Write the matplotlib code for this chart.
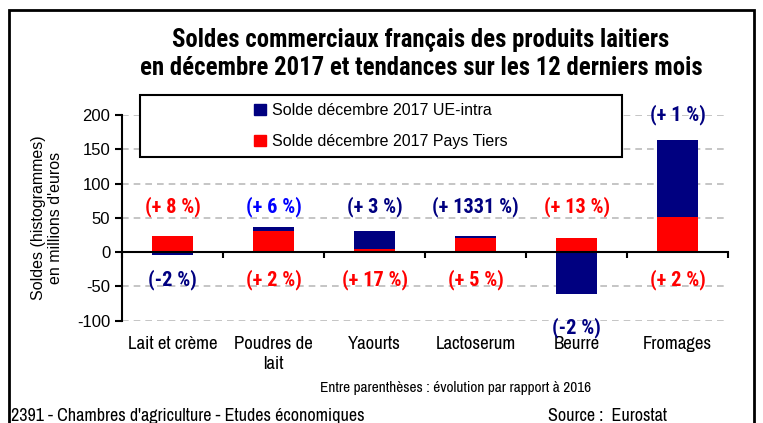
import matplotlib
matplotlib.use("Agg")
import matplotlib.pyplot as plt
from matplotlib import font_manager
from matplotlib.patches import Rectangle, Patch
import numpy as np

plt.rcParams["axes.unicode_minus"] = False

categories = ["Lait et crème", "Poudres de\nlait", "Yaourts", "Lactoserum", "Beurre", "Fromages"]
pays_tiers = [24, 31, 4, 21, 21, 51]
ue_intra = [-4, 6, 26, 3, -62, 113]

top_labels = ["(+ 8 %)", "(+ 6 %)", "(+ 3 %)", "(+ 1331 %)", "(+ 13 %)", "(+ 1 %)"]
top_colors = ["red", "blue", "navy", "navy", "red", "navy"]
top_y = [66, 66, 66, 66, 66, 200]
bottom_labels = ["(-2 %)", "(+ 2 %)", "(+ 17 %)", "(+ 5 %)", "(-2 %)", "(+ 2 %)"]
bottom_colors = ["navy", "red", "red", "red", "navy", "red"]
bottom_y = [-40, -40, -40, -40, -110, -40]

names = {f.name for f in font_manager.fontManager.ttflist}


def pick(cands):
    for n in cands:
        if n in names:
            return [n, "DejaVu Sans"]
    return ["Liberation Sans", "DejaVu Sans"]


narrow = pick(["Archivo Narrow", "Roboto Condensed"])
narrow_bold = pick(["Roboto Condensed", "Archivo Narrow"])
regular = ["Liberation Sans", "DejaVu Sans"]

fig = plt.figure(figsize=(7.63, 4.23), dpi=100)
ax = fig.add_axes([122 / 763, 1 - 320.5 / 423, (728 - 122) / 763, (320.5 - 115) / 423])

x = np.arange(len(categories))
ax.bar(x, pays_tiers, width=0.4, color="#FF0000", zorder=3)
bottoms = [p if u > 0 else 0 for p, u in zip(pays_tiers, ue_intra)]
ax.bar(x, ue_intra, width=0.4, bottom=bottoms, color="#000080", zorder=3)

ax.set_xlim(-0.5, len(categories) - 0.5)
ax.set_ylim(-100, 200)
ax.set_yticks(range(-100, 201, 50))
ax.yaxis.grid(True, linestyle=(0, (4, 3)), color="#bbbbbb", linewidth=1.2, zorder=0)
for lab in ax.get_yticklabels():
    lab.set_family(regular)
    lab.set_fontsize(12)
ax.tick_params(axis="y", direction="out", length=5, width=1.5)

ax.spines["top"].set_visible(False)
ax.spines["right"].set_visible(False)
ax.spines["left"].set_linewidth(1.5)
ax.spines["bottom"].set_position(("data", 0))
ax.spines["bottom"].set_linewidth(1.5)
ax.spines["bottom"].set_zorder(4)
ax.set_xticks(np.arange(len(categories) + 1) - 0.5)
ax.set_xticklabels([])
ax.tick_params(axis="x", direction="out", length=4, width=1.5)

for i, name in enumerate(categories):
    ax.annotate(name, (i, -100), xytext=(0, -11), textcoords="offset points",
                ha="center", va="top", fontsize=13.5,
                family=narrow, linespacing=1.35, annotation_clip=False)
    ax.text(i, top_y[i], top_labels[i], color=top_colors[i], ha="center", va="center",
            fontsize=14.7, fontweight="bold", family=narrow_bold, clip_on=False, zorder=5)
    ax.text(i, bottom_y[i], bottom_labels[i], color=bottom_colors[i], ha="center", va="center",
            fontsize=14.7, fontweight="bold", family=narrow_bold, clip_on=False, zorder=5)

ax.set_ylabel("Soldes (histogrammes)\nen millions d'euros", fontsize=11.5, family=regular,
              labelpad=10)

# legend box
fig.patches.append(Rectangle((140 / 763, 1 - 157 / 423), (622 - 140) / 763, 62 / 423,
                             transform=fig.transFigure, facecolor="white",
                             edgecolor="black", linewidth=1.5, zorder=6))
handles = [Patch(color="#000080", label="Solde décembre 2017 UE-intra"),
           Patch(color="#FF0000", label="Solde décembre 2017 Pays Tiers")]
leg = fig.legend(handles=handles, loc="center", bbox_to_anchor=(381 / 763, 1 - 126 / 423),
                 frameon=False, prop={"family": regular, "size": 11.5},
                 handlelength=0.7, handleheight=0.7, handletextpad=0.4, labelspacing=1.0)
leg.set_zorder(7)

fig.text(421 / 763, 1 - 40 / 423, "Soldes commerciaux français des produits laitiers",
         ha="center", va="center", fontsize=17.8, fontweight="bold", family=narrow_bold)
fig.text(421 / 763, 1 - 68 / 423, "en décembre 2017 et tendances sur les 12 derniers mois",
         ha="center", va="center", fontsize=17.8, fontweight="bold", family=narrow_bold)

fig.text(456 / 763, 1 - 388 / 423, "Entre parenthèses : évolution par rapport à 2016",
         ha="center", va="center", fontsize=11, family=narrow)
fig.text(11 / 763, 1 - 416 / 423, "2391 - Chambres d'agriculture - Etudes économiques",
         ha="left", va="center", fontsize=13, family=narrow)
fig.text(548 / 763, 1 - 416 / 423, "Source :  Eurostat",
         ha="left", va="center", fontsize=13, family=narrow)

# outer frame
fig.patches.append(Rectangle((9 / 763, -0.05), (754 - 9) / 763, 1.05 - 10 / 423,
                             transform=fig.transFigure, facecolor="none",
                             edgecolor="black", linewidth=2))

fig.savefig("out.png", dpi=100)
